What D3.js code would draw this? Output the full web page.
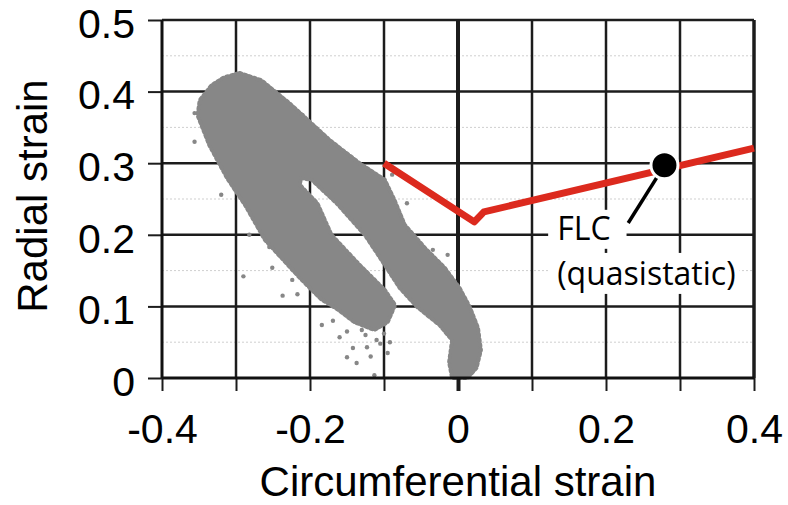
<!DOCTYPE html>
<html>
<head>
<meta charset="utf-8">
<script src="https://cdn.jsdelivr.net/npm/d3@7"></script>
<style>
  html, body { margin: 0; padding: 0; background: #fff; }
  svg { display: block; }
</style>
</head>
<body>
<div id="chart"></div>
<script>
// axis ticks
const xTicks = [-0.4, -0.3, -0.2, -0.1, 0, 0.1, 0.2, 0.3, 0.4];
const xTickLabels = [-0.4, -0.2, 0, 0.2, 0.4];
const yTicks = [0, 0.1, 0.2, 0.3, 0.4, 0.5];
const yMinorTicks = [0.05, 0.15, 0.25, 0.35, 0.45];

// outline of the measured strain point cloud (circumferential, radial)
const cloudX = [-0.295, -0.266, -0.228, -0.173, -0.133, -0.099, -0.086, -0.072, -0.045, -0.018,
                0.002, 0.016, 0.027, 0.031, 0.025, 0.013, -0.008, -0.012, -0.008, -0.025,
                -0.055, -0.079, -0.099, -0.126, -0.164, -0.198, -0.212, -0.214, -0.190, -0.171,
                -0.133, -0.099, -0.085, -0.095, -0.113, -0.140, -0.163, -0.185, -0.214, -0.261,
                -0.288, -0.312, -0.336, -0.352, -0.349, -0.333, -0.316];
const cloudY = [0.426, 0.416, 0.384, 0.332, 0.300, 0.277, 0.249, 0.214, 0.182, 0.154,
                0.126, 0.099, 0.070, 0.039, 0.014, 0.000, 0.000, 0.022, 0.053, 0.074,
                0.099, 0.126, 0.158, 0.200, 0.244, 0.277, 0.279, 0.270, 0.244, 0.200,
                0.158, 0.123, 0.102, 0.078, 0.067, 0.078, 0.096, 0.110, 0.140, 0.193,
                0.242, 0.279, 0.325, 0.367, 0.388, 0.409, 0.420];

// scattered points outside the dense cloud
const dotX = [-0.290, -0.251, -0.237, -0.217, -0.224, -0.169, -0.160, -0.150, -0.137, -0.113,
              -0.142, -0.123, -0.095, -0.110, -0.356, -0.356, -0.320, -0.282, -0.255, -0.069,
              -0.034, -0.014, -0.171, -0.210, -0.089, -0.184, -0.130, -0.100, -0.105, -0.125,
              -0.150, -0.118, -0.092];
const dotY = [0.142, 0.154, 0.115, 0.117, 0.137, 0.080, 0.057, 0.029, 0.021, 0.004,
              0.042, 0.043, 0.035, 0.053, 0.370, 0.330, 0.256, 0.200, 0.183, 0.244,
              0.179, 0.172, 0.323, 0.367, 0.284, 0.074, 0.067, 0.062, 0.048, 0.060,
              0.065, 0.030, 0.050];

// forming limit curve (quasistatic)
const flcX = [-0.1, 0.022, 0.035, 0.4];
const flcY = [0.3, 0.218, 0.232, 0.321];
const flcMarker = [0.279, 0.297];
const flcLeaderEnd = [0.230, 0.2165];
const flcLabel = [0.134, 0.193];
const flcSubLabel = [0.134, 0.130];

const svgWidth = 788, svgHeight = 505;
const margin = {top: 20, right: 34, bottom: 127, left: 162},
      width = svgWidth - margin.left - margin.right,
      height = svgHeight - margin.top - margin.bottom;

const svg = d3.select("#chart").append("svg")
    .attr("width", svgWidth)
    .attr("height", svgHeight)
    .style("background", "#fff");

const g = svg.append("g")
    .attr("transform", "translate(" + margin.left + "," + margin.top + ")");

const x = d3.scaleLinear().domain([-0.4, 0.4]).range([0, width]);
const y = d3.scaleLinear().domain([0, 0.5]).range([height, 0]);

const fmt = d => d === 0 ? "0" : String(d);
const axisFont = '"Liberation Sans", Arial, sans-serif';

// minor dotted horizontal grid
g.append("g").selectAll("line")
    .data(yMinorTicks)
    .enter().append("line")
      .attr("x1", 0).attr("x2", width)
      .attr("y1", d => y(d)).attr("y2", d => y(d))
      .attr("stroke", "#cfcfcf")
      .attr("stroke-width", 1)
      .attr("stroke-dasharray", "2,2");

// major grid
g.append("g").selectAll("line")
    .data(yTicks.slice(1))
    .enter().append("line")
      .attr("x1", 0).attr("x2", width)
      .attr("y1", d => y(d)).attr("y2", d => y(d))
      .attr("stroke", "#1c1c1c")
      .attr("stroke-width", 2.5);
g.append("g").selectAll("line")
    .data(xTicks.slice(1))
    .enter().append("line")
      .attr("x1", d => x(d)).attr("x2", d => x(d))
      .attr("y1", 0).attr("y2", height)
      .attr("stroke", "#1c1c1c")
      .attr("stroke-width", d => d === 0 ? 4 : (d === 0.4 ? 3.5 : 2.5));

// point cloud
const cloud = d3.zip(cloudX, cloudY);
const cloudLine = d3.line()
    .x(d => x(d[0])).y(d => y(d[1]))
    .curve(d3.curveLinearClosed);
g.append("path")
    .attr("d", cloudLine(cloud))
    .attr("fill", "#878787")
    .attr("stroke", "#878787")
    .attr("stroke-width", 4)
    .attr("stroke-dasharray", "2,3")
    .attr("stroke-linecap", "round")
    .attr("stroke-linejoin", "round");
g.append("g").selectAll("circle")
    .data(d3.zip(dotX, dotY))
    .enter().append("circle")
      .attr("cx", d => x(d[0]))
      .attr("cy", d => y(d[1]))
      .attr("r", 2.2)
      .attr("fill", "#878787");

// axes
const yAxis = g.append("g")
    .call(d3.axisLeft(y).tickValues(yTicks).tickSize(14).tickPadding(13).tickFormat(fmt));
const xAxis = g.append("g")
    .attr("transform", "translate(0," + height + ")")
    .call(d3.axisBottom(x).tickValues(xTicks).tickSize(13).tickPadding(23)
      .tickFormat(d => xTickLabels.includes(d) ? fmt(d) : ""));
[yAxis, xAxis].forEach(a => {
  a.select(".domain").remove();
  a.selectAll(".tick line").attr("stroke", "#1c1c1c").attr("stroke-width", 2);
  a.selectAll(".tick text")
    .attr("fill", "#000")
    .style("font-family", axisFont)
    .style("font-size", "41px");
});
yAxis.selectAll(".tick text").attr("dy", "0.42em");
xAxis.selectAll(".tick line").attr("stroke-width", d => d === 0 ? 4 : 2);

g.append("line")
    .attr("x1", 0).attr("x2", 0).attr("y1", 0).attr("y2", height)
    .attr("stroke", "#111").attr("stroke-width", 3);
g.append("line")
    .attr("x1", 0).attr("x2", width).attr("y1", height).attr("y2", height)
    .attr("stroke", "#111").attr("stroke-width", 3);

// axis titles
svg.append("text")
    .attr("x", margin.left + width / 2)
    .attr("y", 496)
    .attr("text-anchor", "middle")
    .style("font-family", axisFont)
    .style("font-size", "42px")
    .text("Circumferential strain");
svg.append("text")
    .attr("transform", "translate(47," + (margin.top + height / 2 - 3) + ") rotate(-90)")
    .attr("text-anchor", "middle")
    .style("font-family", axisFont)
    .style("font-size", "42px")
    .text("Radial strain");

// FLC curve
const flcLine = d3.line().x(d => x(d[0])).y(d => y(d[1]));
g.append("path")
    .attr("d", flcLine(d3.zip(flcX, flcY)))
    .attr("fill", "none")
    .attr("stroke", "#dc2a1e")
    .attr("stroke-width", 7)
    .attr("stroke-linejoin", "round");

// annotation
const labelFont = '"Open Sans", "Noto Sans", sans-serif';
const ann = g.append("g");
const boxes = ann.append("g");
const t1 = ann.append("text")
    .attr("x", x(flcLabel[0])).attr("y", y(flcLabel[1]))
    .style("font-family", labelFont).style("font-size", "32px")
    .text("FLC");
const t2 = ann.append("text")
    .attr("x", x(flcSubLabel[0])).attr("y", y(flcSubLabel[1]))
    .style("font-family", labelFont).style("font-size", "32px")
    .text("(quasistatic)");
[[t1, 9, 16, 4], [t2, 9, 4, 2]].forEach(([t, pl, pr, pv]) => {
  const b = t.node().getBBox();
  boxes.append("rect")
    .attr("x", b.x - pl).attr("y", b.y + pv)
    .attr("width", b.width + pl + pr).attr("height", b.height - pv)
    .attr("fill", "#fff");
});
ann.append("line")
    .attr("x1", x(flcLeaderEnd[0])).attr("y1", y(flcLeaderEnd[1]))
    .attr("x2", x(flcMarker[0])).attr("y2", y(flcMarker[1]))
    .attr("stroke", "#000").attr("stroke-width", 3.5);
ann.append("circle")
    .attr("cx", x(flcMarker[0])).attr("cy", y(flcMarker[1]))
    .attr("r", 13.5)
    .attr("fill", "#000")
    .attr("stroke", "#fff")
    .attr("stroke-width", 3);
</script>
</body>
</html>
